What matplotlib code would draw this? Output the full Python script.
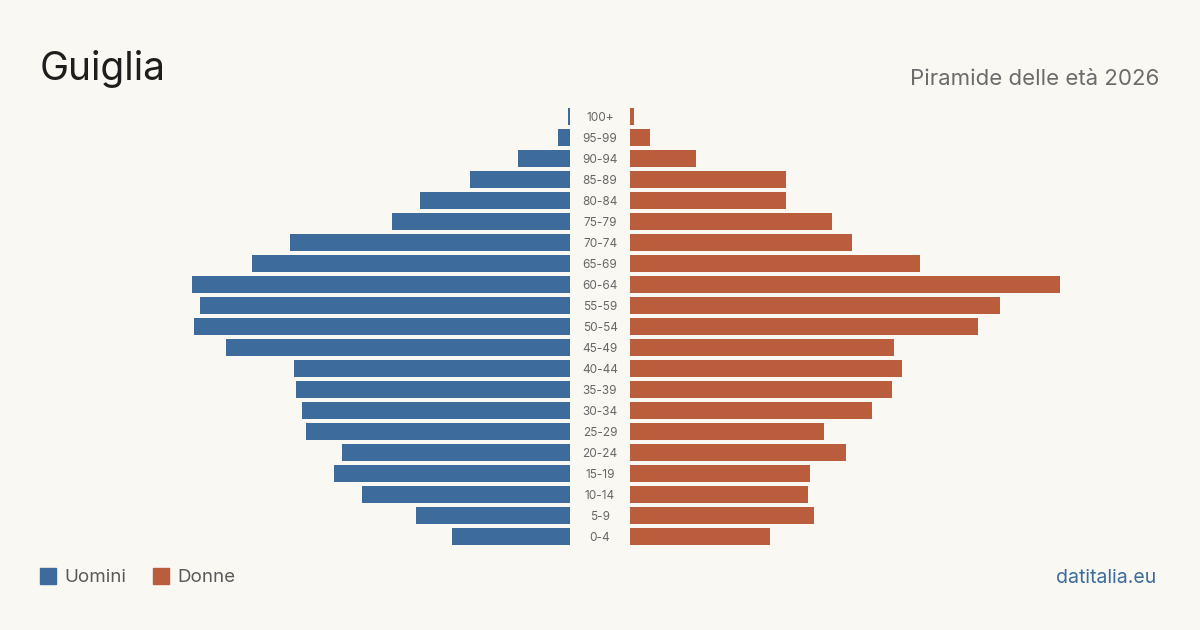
import matplotlib.pyplot as plt
from matplotlib.patches import Rectangle

plt.rcParams['font.family'] = ['Inter', 'DejaVu Sans']

# age classes, from youngest to oldest
ages = ['0-4', '5-9', '10-14', '15-19', '20-24', '25-29', '30-34', '35-39',
        '40-44', '45-49', '50-54', '55-59', '60-64', '65-69', '70-74',
        '75-79', '80-84', '85-89', '90-94', '95-99', '100+']
uomini = [59, 77, 104, 118, 114, 132, 134, 137, 138, 172, 188, 185, 189,
          159, 140, 89, 75, 50, 26, 6, 1]
donne = [70, 92, 89, 90, 108, 97, 121, 131, 136, 132, 174, 185, 215,
         145, 111, 101, 78, 78, 33, 10, 2]

bg = '#faf8f3'
c_m = '#3d6b9c'
c_f = '#b95d3d'

W, H = 1200, 630
fig = plt.figure(figsize=(12, 6.3), dpi=100, facecolor=bg)

bottom = (H - 547) / H
height = 441 / H
ax_m = fig.add_axes([40 / W, bottom, 530 / W, height])
ax_f = fig.add_axes([630 / W, bottom, 530 / W, height])

y = list(range(len(ages)))
ax_m.barh(y, uomini, height=0.8, color=c_m)
ax_f.barh(y, donne, height=0.8, color=c_f)

ax_m.set_xlim(265, 0)
ax_f.set_xlim(0, 265)
for ax in (ax_m, ax_f):
    ax.set_ylim(-0.5, len(ages) - 0.5)
    ax.set_facecolor('none')
    ax.axis('off')

# age labels in the middle gap
for i, a in enumerate(ages):
    ax_f.text(-15, i, a, ha='center', va='center_baseline', fontsize=8.5,
              color='#666666', clip_on=False)

fig.text(40 / W, 1 - 65.5 / H, 'Guiglia', fontsize=28, color='#1e1e1e',
         ha='left', va='center_baseline')
fig.text(1159 / W, 1 - 77 / H, 'Piramide delle età 2026', fontsize=16,
         color='#6b6b6b', ha='right', va='center_baseline')

# legend
fig.patches.append(Rectangle((40 / W, 1 - 584 / H), 16 / W, 16 / H,
                             transform=fig.transFigure, color=c_m))
fig.text(64 / W, 1 - 576 / H, 'Uomini', fontsize=13.5, color='#5a5a5a',
         ha='left', va='center_baseline')
fig.patches.append(Rectangle((153 / W, 1 - 584 / H), 16 / W, 16 / H,
                             transform=fig.transFigure, color=c_f))
fig.text(177 / W, 1 - 576 / H, 'Donne', fontsize=13.5, color='#5a5a5a',
         ha='left', va='center_baseline')

fig.text(1156 / W, 1 - 576 / H, 'datitalia.eu', fontsize=14, color='#3d6b9c',
         ha='right', va='center_baseline')

fig.savefig('out.png', dpi=100, facecolor=bg)
